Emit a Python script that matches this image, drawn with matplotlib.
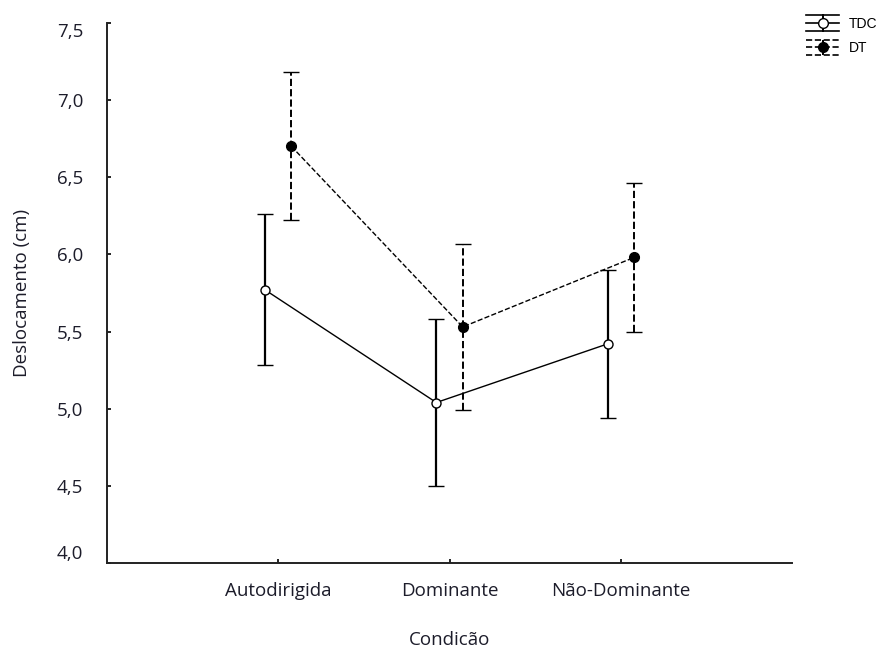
import matplotlib
matplotlib.use("Agg")
import matplotlib.pyplot as plt
from matplotlib.legend_handler import HandlerBase
from matplotlib.lines import Line2D

# data
condicoes = ["Autodirigida", "Dominante", "Não-Dominante"]
tdc_media = [5.77, 5.04, 5.42]
tdc_erro = [0.49, 0.54, 0.48]
dt_media = [6.70, 5.53, 5.98]
dt_erro = [0.48, 0.54, 0.48]
yticks = [4.0, 4.5, 5.0, 5.5, 6.0, 6.5, 7.0, 7.5]

plt.rcParams['font.family'] = ['Open Sans', 'DejaVu Sans']
txt_color = '#1c1c2a'
fs = 13.5


class HandlerErr(HandlerBase):
    # legend glyph: caps as full-width lines, bar with marker in the middle
    def __init__(self, ls, face):
        super().__init__()
        self.ls = ls
        self.face = face

    def create_artists(self, legend, orig_handle, xdescent, ydescent,
                       width, height, fontsize, trans):
        h = height * 1.6
        yc = height / 2 - ydescent
        x0, x1 = -xdescent, -xdescent + width
        xm = (x0 + x1) / 2
        arts = []
        for yy in (yc - h / 2, yc, yc + h / 2):
            arts.append(Line2D([x0, x1], [yy, yy], color='black', lw=1.2,
                               ls=self.ls, transform=trans))
        arts.append(Line2D([xm, xm], [yc - h / 2, yc + h / 2], color='black',
                           lw=1.4, ls=self.ls, transform=trans))
        arts.append(Line2D([xm], [yc], marker='o', ms=7, mfc=self.face,
                           mec='black', mew=1, transform=trans))
        return arts


fig = plt.figure(figsize=(8.82, 6.51), dpi=100)
ax = fig.add_axes([0.1213, 0.1352, 0.7767, 0.8295])

x = list(range(1, len(condicoes) + 1))
off = 0.077
x_tdc = [v - off for v in x]
x_dt = [v + off for v in x]

l1 = ax.errorbar(x_tdc, tdc_media, yerr=tdc_erro, color='black', lw=1,
                 elinewidth=1.6, capsize=6, capthick=1.4, marker='o', ms=6.5,
                 mfc='white', mec='black', mew=1)
l2 = ax.errorbar(x_dt, dt_media, yerr=dt_erro, color='black', lw=1, ls='--',
                 elinewidth=1.4, capsize=6, capthick=1.4, marker='o', ms=7,
                 mfc='black', mec='black', mew=1)
l2[2][0].set_linestyle('--')

ax.set_xlim(0, 4)
ax.set_ylim(4.0, 7.5)
ax.set_xticks(x)
ax.set_xticklabels(condicoes)
ax.set_yticks(yticks)
ax.set_yticklabels([f"{v:.1f}".replace('.', ',') for v in yticks])
# end labels kept inside the axis span, as in the original
ylabs = ax.get_yticklabels()
ylabs[0].set_verticalalignment('bottom')
ylabs[-1].set_verticalalignment('top')

for s in ['top', 'right']:
    ax.spines[s].set_visible(False)
for s in ['left', 'bottom']:
    ax.spines[s].set_linewidth(1.4)
    ax.spines[s].set_color('#222222')

ax.tick_params(direction='in', length=3, width=1.2, labelsize=fs,
               labelcolor=txt_color)
ax.tick_params(axis='x', pad=14)
ax.tick_params(axis='y', pad=17)

ax.set_ylabel("Deslocamento (cm)", fontsize=fs, color=txt_color, labelpad=19)
ax.set_xlabel("Condicão", fontsize=fs, color=txt_color, labelpad=22)

p1 = Line2D([], [])
p2 = Line2D([], [])
fig.legend([p1, p2], ["TDC", "DT"], loc='upper left',
           bbox_to_anchor=(0.914, 0.974), frameon=False,
           handler_map={p1: HandlerErr('-', 'white'), p2: HandlerErr('--', 'black')},
           prop={'family': ['Liberation Sans'], 'size': 10},
           handlelength=2.4, handletextpad=0.7, labelspacing=0.75,
           borderpad=0, borderaxespad=0)

fig.savefig("out.png", dpi=100)
